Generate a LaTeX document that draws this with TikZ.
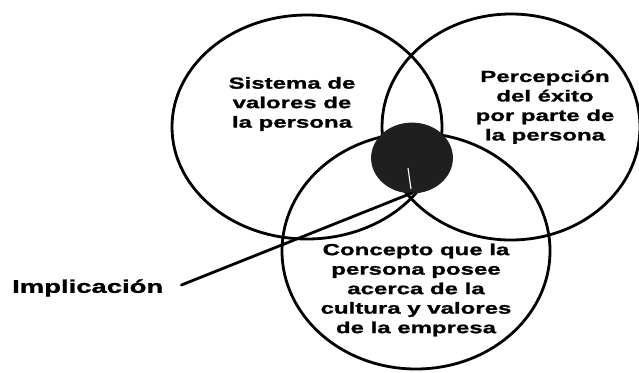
\documentclass[tikz,border=0pt]{standalone}
\usepackage{fontspec}
\newfontfamily\labfont[FakeStretch=1.5, FakeBold=1.2]{Liberation Sans}
\usetikzlibrary{shapes.geometric}
\tikzset{
  ring/.style={ellipse, draw=black, line width=2.8pt, inner sep=0pt, minimum width=#1},
  core/.style={ellipse, fill=black!88, draw=black!88, line width=0.8pt, inner sep=0pt},
  lab/.style={align=center, inner sep=0pt, font=\labfont\bfseries\fontsize{16}{19.5}\selectfont},
  pointer/.style={line width=2.8pt, line cap=round},
}
\begin{document}
\begin{tikzpicture}[x=1pt,y=-1pt]
\useasboundingbox (0,0) rectangle (639,372);
\node[ring=270pt, minimum height=224pt] (left) at (307,127) {};
\node[ring=258pt, minimum height=226pt] (right) at (511,127) {};
\node[ring=268pt, minimum height=236pt] (bottom) at (416,251) {};
\node[core, minimum width=81pt, minimum height=70pt] (dark) at (412,158) {};
\coordinate (tip) at (412,193);
\draw[white, line width=1.1pt] (411,189) -- (408,168);
\node[lab] (t1) at (292,104) {Sistema de\\valores de\\la persona};
\node[lab] (t2) at (545,107) {Percepción\\del éxito\\por parte de\\la persona};
\node[lab] (t3) at (416,290) {Concepto que la\\persona posee\\acerca de la\\cultura y valores\\de la empresa};
\node[lab, font=\labfont\bfseries\fontsize{18.3}{20}\selectfont, anchor=west] (implic) at (12,288) {Implicación};
\draw[pointer] (implic.east) ++(18,-3) -- (tip);
\end{tikzpicture}
\end{document}
